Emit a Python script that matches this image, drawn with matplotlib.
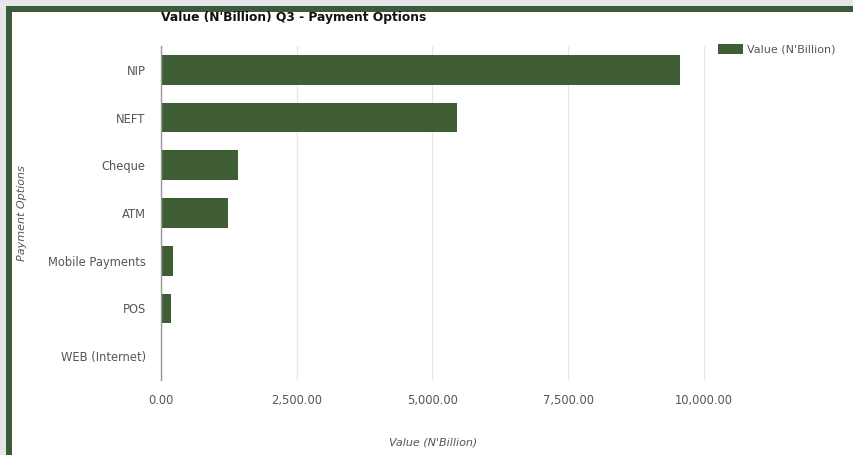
import matplotlib
matplotlib.use("Agg")
from matplotlib import pyplot as plt
from matplotlib.patches import Rectangle
from matplotlib.ticker import FuncFormatter

# data
options = ["NIP", "NEFT", "Cheque", "ATM", "Mobile Payments", "POS", "WEB (Internet)"]
values = [9570, 5450, 1420, 1235, 215, 180, 10]
x_ticks = [0, 2500, 5000, 7500, 10000]

bar_color = "#3f5e36"
frame_color = "#3b5b3c"
text_color = "#555555"

W, H = 854, 455
fig = plt.figure(figsize=(W / 100, H / 100), dpi=100)
fig.patch.set_facecolor("#e5e6e8")

# green frame and white panel (top and left edges only)
fig.add_artist(Rectangle((6 / W, 0), 1, 1 - 6 / H, transform=fig.transFigure,
                         facecolor=frame_color, edgecolor="none", zorder=0))
fig.add_artist(Rectangle((12 / W, 0), 1, 1 - 12 / H, transform=fig.transFigure,
                         facecolor="white", edgecolor="none", zorder=0))

ax = fig.add_axes([161 / W, 75 / H, 545 / W, 334 / H])
ax.set_facecolor("none")

ypos = list(range(len(options)))
ax.barh(ypos, values, height=0.62, color=bar_color, label="Value (N'Billion)", zorder=3)
ax.set_ylim(len(options) - 0.5, -0.5)
ax.set_xlim(0, 10040)

ax.set_yticks(ypos)
ax.set_yticklabels(options)
ax.set_xticks(x_ticks)
ax.xaxis.set_major_formatter(FuncFormatter(lambda v, p: f"{v:,.2f}"))
ax.tick_params(axis="both", length=0, labelsize=8.3, colors=text_color)
ax.tick_params(axis="y", pad=11)
ax.tick_params(axis="x", pad=10)

ax.grid(axis="x", color="#e6e6e6", linewidth=0.9, zorder=0)
for side in ["top", "right", "bottom"]:
    ax.spines[side].set_visible(False)
ax.spines["left"].set_color("#999999")
ax.spines["left"].set_linewidth(1.0)
ax.spines["left"].set_zorder(4)

ax.set_xlabel("Value (N'Billion)", fontsize=8, style="italic", color=text_color, labelpad=22)
fig.text(22 / W, 1 - 213 / H, "Payment Options", rotation=90, fontsize=8, style="italic",
         color=text_color, ha="center", va="center")

fig.text(161 / W, 1 - 18 / H, "Value (N'Billion) Q3 - Payment Options", fontsize=8.8,
         fontweight="bold", color="#111111", ha="left", va="center")

fig.legend(loc="upper left", bbox_to_anchor=(714 / W, 1 - 40 / H), frameon=False,
           fontsize=8, handlelength=2.2, handleheight=0.9, handletextpad=0.4,
           labelcolor=text_color, borderaxespad=0)

fig.savefig("out.png", dpi=100, facecolor=fig.get_facecolor())
